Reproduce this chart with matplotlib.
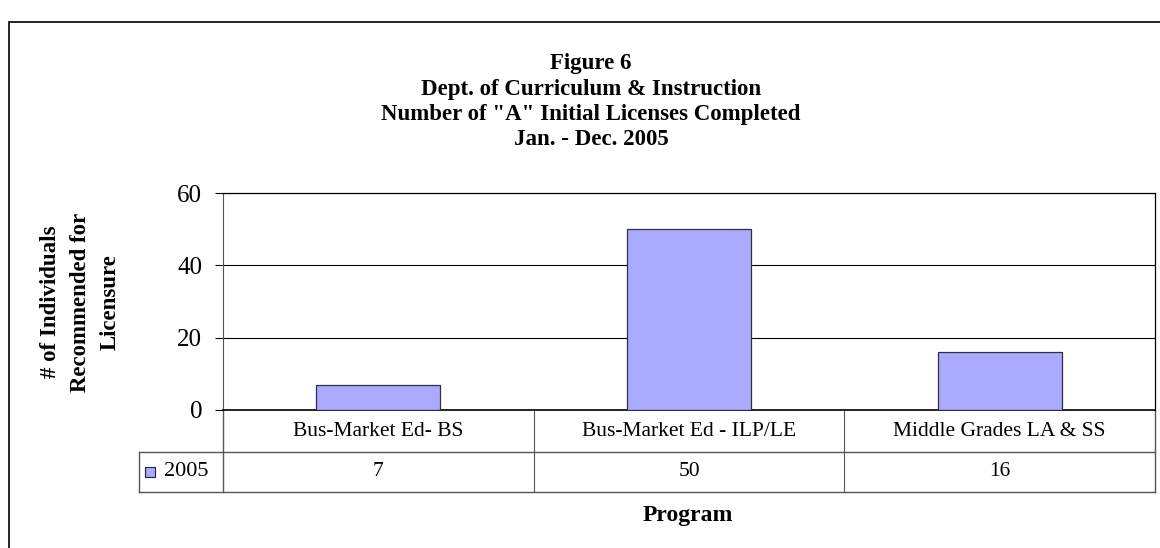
import matplotlib
matplotlib.use('Agg')
from matplotlib import pyplot as plt
from matplotlib.patches import Rectangle
from matplotlib.lines import Line2D

# data
programs = ['Bus-Market Ed- BS', 'Bus-Market Ed - ILP/LE', 'Middle Grades LA & SS']
counts_2005 = [7, 50, 16]
series_name = '2005'
y_ticks = [0, 20, 40, 60]
title_lines = ['Figure 6', 'Dept. of Curriculum & Instruction',
               'Number of "A" Initial Licenses Completed', 'Jan. - Dec. 2005']

plt.rcParams['font.family'] = ['Liberation Serif', 'DejaVu Serif']
bar_color = '#aaaaff'
W, H = 1160, 548

fig = plt.figure(figsize=(11.6, 5.48), dpi=100)
fig.patch.set_facecolor('white')

# outer chart frame (right/bottom edges fall outside the picture)
fig.add_artist(Rectangle((9 / W, -0.1), 1.2, 1 - 22 / H + 0.1, transform=fig.transFigure,
                         fill=False, edgecolor='black', linewidth=1.2))

# title
for i, line in enumerate(title_lines):
    fig.text(591 / W, 1 - (64 + 25.3 * i) / H, line, ha='center', va='center',
             fontsize=16.5, fontweight='bold')

left, right, top, zero = 223, 1155, 193, 410
ax = fig.add_axes([left / W, 1 - zero / H, (right - left) / W, (zero - top) / H])
x = list(range(len(programs)))
ax.bar(x, counts_2005, width=0.4, color=bar_color, edgecolor='#303040', linewidth=0.9, zorder=3)
ax.set_xlim(-0.5, len(programs) - 0.5)
ax.set_ylim(0, 60)
ax.set_yticks(y_ticks)
ax.set_yticklabels([str(t) for t in y_ticks], fontsize=18)
ax.tick_params(axis='y', length=6, width=0.8, pad=9, direction='out')
ax.tick_params(axis='x', length=0, labelbottom=False)
ax.grid(axis='y', color='black', linewidth=0.8, zorder=0)
for s in ['top', 'right']:
    ax.spines[s].set_color('black')
    ax.spines[s].set_linewidth(0.9)
ax.spines['left'].set_color('#555555')
ax.spines['bottom'].set_color('black')
ax.spines['bottom'].set_linewidth(1.2)

# data table below the plot
ph = zero - top
row1 = -(452 - zero) / ph
row2 = -(492 - zero) / ph
legend_left = -0.5 + (139 - left) / (right - left) * 3
trans = ax.get_xaxis_transform()
lc = '#555555'
ax.add_line(Line2D([-0.5, -0.5], [0, row2], transform=trans, color=lc, lw=1, clip_on=False))
ax.add_line(Line2D([2.5, 2.5], [0, row2], transform=trans, color=lc, lw=1, clip_on=False))
for xv in [0.5, 1.5]:
    ax.add_line(Line2D([xv, xv], [0, row2], transform=trans, color=lc, lw=0.8, clip_on=False))
ax.add_line(Line2D([legend_left, 2.5], [row1, row1], transform=trans, color=lc, lw=1, clip_on=False))
ax.add_line(Line2D([legend_left, 2.5], [row2, row2], transform=trans, color=lc, lw=1, clip_on=False))
ax.add_line(Line2D([legend_left, legend_left], [row1, row2], transform=trans, color=lc, lw=1, clip_on=False))

for xi, name, val in zip(x, programs, counts_2005):
    ax.text(xi, row1 / 2, name, transform=trans, ha='center', va='center', fontsize=15.5)
    ax.text(xi, (row1 + row2) / 2, str(val), transform=trans, ha='center', va='center', fontsize=15.5)

# legend key in the table
key_x = -0.5 + (145 - left) / (right - left) * 3
key_w = 10 / (right - left) * 3
key_h = 10 / ph
ax.add_patch(Rectangle((key_x, (row1 + row2) / 2 - key_h / 2), key_w, key_h, transform=trans,
                       facecolor=bar_color, edgecolor='#202040', linewidth=0.8, clip_on=False))
ax.text(-0.5 + (164 - left) / (right - left) * 3, (row1 + row2) / 2, series_name,
        transform=trans, ha='left', va='center', fontsize=16)

# axis titles
fig.text(80 / W, 1 - 302 / H, '# of Individuals\nRecommended for\nLicensure', rotation=90,
         ha='center', va='center', fontsize=16.5, fontweight='bold', linespacing=1.55)
fig.text(688 / W, 1 - 516 / H, 'Program', ha='center', va='center', fontsize=17, fontweight='bold')

fig.savefig('out.png', dpi=100)
